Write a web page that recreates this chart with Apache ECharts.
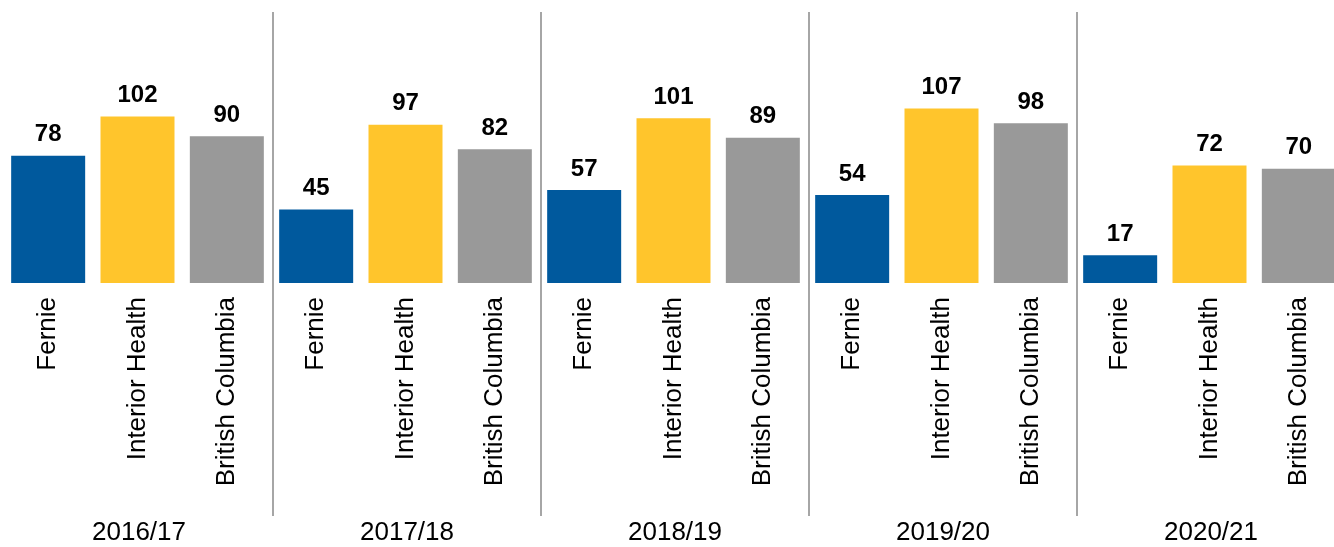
<!DOCTYPE html>
<html>
<head>
<meta charset="utf-8">
<script src="https://cdn.jsdelivr.net/npm/echarts@6/dist/echarts.min.js"></script>
<style>
  html, body { margin: 0; padding: 0; background: #fff; }
  #chart { width: 1334px; height: 547px; }
</style>
</head>
<body>
<div id="chart"></div>
<script>
// data
const years = ['2016/17', '2017/18', '2018/19', '2019/20', '2020/21'];
const regions = ['Fernie', 'Interior Health', 'British Columbia'];
const fernie = [78, 45, 57, 54, 17];
const interiorHealth = [102, 97, 101, 107, 72];
const britishColumbia = [90, 82, 89, 98, 70];

const regionColors = ['#00599d', '#ffc52c', '#999999'];
const font = '"Liberation Sans", Arial, sans-serif';

// one category per bar, grouped by year
const names = [];
const barData = [];
const seriesByRegion = [fernie, interiorHealth, britishColumbia];
years.forEach((y, i) => {
    regions.forEach((r, j) => {
        names.push(r);
        barData.push({ value: seriesByRegion[j][i], itemStyle: { color: regionColors[j] } });
    });
});

const chart = echarts.init(document.getElementById('chart'));
chart.setOption({
    animation: false,
    grid: [
        { left: 3.5, width: 1340, top: 22, bottom: 264, outerBoundsMode: 'none', containLabel: false },
        { left: 5, width: 1340, top: 12, bottom: 31, outerBoundsMode: 'none', containLabel: false }
    ],
    xAxis: [
        {
            type: 'category',
            gridIndex: 0,
            data: names,
            axisLine: { show: false },
            axisTick: { show: false },
            axisLabel: {
                interval: 0,
                rotate: 90,
                margin: 14,
                fontSize: 26,
                fontFamily: font,
                color: '#000'
            }
        },
        {
            type: 'category',
            gridIndex: 1,
            data: years,
            axisLine: { show: false },
            axisTick: { show: false },
            axisLabel: {
                interval: 0,
                margin: 4,
                fontSize: 26,
                fontFamily: font,
                color: '#000'
            },
            splitLine: {
                show: true,
                showMinLine: false,
                showMaxLine: false,
                lineStyle: { color: '#a6a6a6', width: 2 }
            }
        }
    ],
    yAxis: [
        { type: 'value', gridIndex: 0, min: 0, max: 160, show: false },
        { type: 'value', gridIndex: 1, show: false }
    ],
    series: [{
        type: 'bar',
        xAxisIndex: 0,
        yAxisIndex: 0,
        barWidth: 74,
        data: barData,
        label: {
            show: true,
            position: 'top',
            distance: 9,
            fontSize: 24,
            fontWeight: 'bold',
            fontFamily: font,
            color: '#000'
        }
    }]
});
</script>
</body>
</html>
